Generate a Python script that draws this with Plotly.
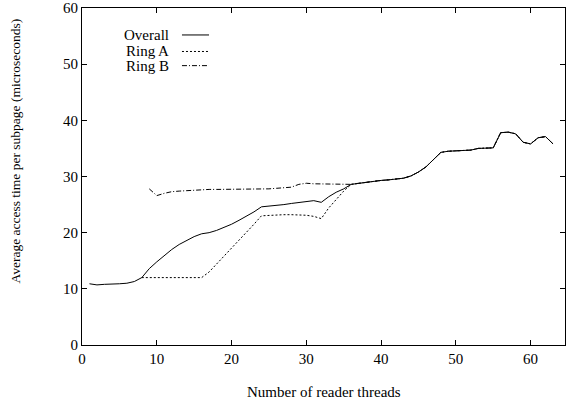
import plotly.graph_objects as go

# ---- data ----
threads_overall = list(range(1, 64))
overall = [10.9, 10.7, 10.8, 10.8, 10.9, 11.0, 11.3, 12.0, 13.6, 14.8,
           15.9, 17.0, 17.9, 18.6, 19.3, 19.8, 20.0, 20.4, 20.9, 21.5,
           22.2, 22.9, 23.7, 24.6, 24.7, 24.8, 25.0, 25.2, 25.4, 25.6,
           25.7, 25.4, 26.4, 27.2, 27.8, 28.6, 28.8, 29.0, 29.1, 29.3,
           29.4, 29.5, 29.7, 30.1, 30.8, 31.7, 33.0, 34.3, 34.5, 34.6,
           34.7, 34.7, 35.0, 35.1, 35.1, 37.8, 37.9, 37.6, 36.1, 35.8,
           36.9, 37.1, 35.8]

threads_ring_a = list(range(8, 64))
ring_a = [12.0, 12.0, 12.0, 12.0, 12.0, 12.0, 12.0, 12.0, 12.0, 13.0,
          14.4, 15.8, 17.2, 18.6, 20.0, 21.5, 23.0, 23.1, 23.1, 23.2,
          23.2, 23.2, 23.1, 22.9, 22.5, 24.4, 26.0, 27.4, 28.6, 28.8,
          29.0, 29.1, 29.3, 29.4, 29.5, 29.7, 30.1, 30.8, 31.7, 33.0,
          34.3, 34.5, 34.6, 34.7, 34.7, 35.0, 35.1, 35.1, 37.8, 37.9,
          37.6, 36.1, 35.8, 36.9, 37.1, 35.8]

threads_ring_b = list(range(9, 64))
ring_b = [27.8, 26.6, 27.0, 27.3, 27.4, 27.5, 27.6, 27.6, 27.7, 27.7,
          27.7, 27.7, 27.7, 27.8, 27.8, 27.8, 27.8, 27.9, 28.0, 28.1,
          28.6, 28.8, 28.7, 28.7, 28.7, 28.7, 28.7, 28.6, 28.8, 29.0,
          29.1, 29.3, 29.4, 29.5, 29.7, 30.1, 30.8, 31.7, 33.0, 34.3,
          34.5, 34.6, 34.7, 34.7, 35.0, 35.1, 35.1, 37.8, 37.9, 37.6,
          36.1, 35.8, 36.9, 37.1, 35.8]

series_names = ["Overall", "Ring A", "Ring B"]
x_ticks = [0, 10, 20, 30, 40, 50, 60]
y_ticks = [0, 10, 20, 30, 40, 50, 60]
x_title = "Number of reader threads"
y_title = "Average access time per subpage (microseconds)"

FONT = "Liberation Serif"
FS = 15
dashes = ["solid", "2px,2px", "5px,2px,1px,2px"]
widths = [1.0, 1.0, 1.0]

fig = go.Figure()
for name, xs, ys, d, w in zip(series_names,
                              [threads_overall, threads_ring_a, threads_ring_b],
                              [overall, ring_a, ring_b], dashes, widths):
    fig.add_trace(go.Scatter(x=xs, y=ys, mode="lines", name=name,
                             line=dict(color="black", width=w, dash=d),
                             showlegend=False))

# gnuplot-style legend (text right-aligned, sample line to the right)
leg_y = [0.920, 0.871, 0.829]
for name, d, w, yy in zip(series_names, dashes, widths, leg_y):
    fig.add_annotation(xref="paper", yref="paper", x=0.185, y=yy,
                       text=name, showarrow=False, xanchor="right",
                       yanchor="middle", font=dict(family=FONT, size=FS, color="black"))
    fig.add_shape(type="line", xref="paper", yref="paper",
                  x0=0.207, x1=0.263, y0=yy, y1=yy,
                  line=dict(color="black", width=w, dash=d))

# axis titles placed like gnuplot
fig.add_annotation(xref="paper", yref="paper", x=0.502, y=-0.1386,
                   text=x_title, showarrow=False, xanchor="center", yanchor="middle",
                   font=dict(family=FONT, size=FS, color="black"))
fig.add_annotation(xref="paper", yref="paper", x=-0.1366, y=0.574,
                   text=y_title, showarrow=False, textangle=-90,
                   xanchor="center", yanchor="middle",
                   font=dict(family=FONT, size=13.5, color="black"))

axis_common = dict(showgrid=False, zeroline=False, showline=True,
                   linecolor="black", linewidth=1, mirror="ticks",
                   ticks="inside", ticklen=5, tickcolor="black", tickwidth=1,
                   tickfont=dict(family=FONT, size=FS, color="black"))

fig.update_xaxes(range=[0, 64.6], tickvals=x_ticks, **axis_common)
fig.update_yaxes(range=[0, 60], tickvals=y_ticks, **axis_common)

fig.update_layout(width=566, height=403,
                  margin=dict(l=82, r=1, t=8, b=58),
                  plot_bgcolor="white", paper_bgcolor="white",
                  font=dict(family=FONT, size=FS, color="black"))

fig.write_html("out.html")
